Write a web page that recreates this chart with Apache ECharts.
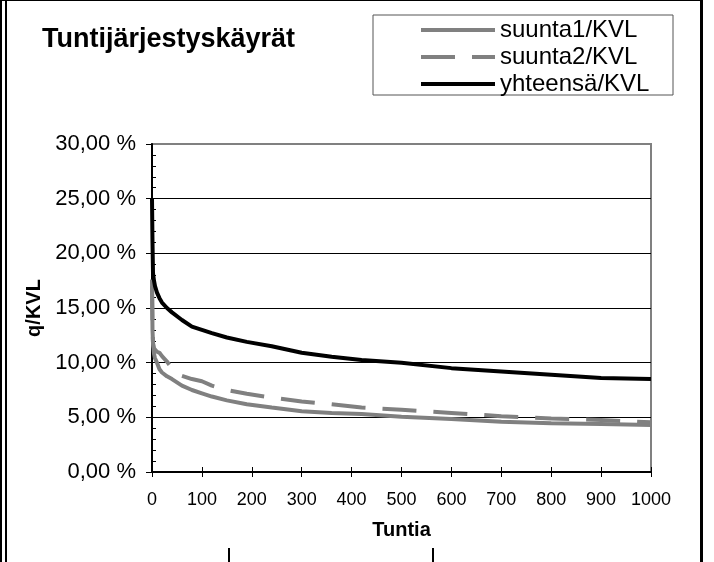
<!DOCTYPE html>
<html>
<head>
<meta charset="utf-8">
<script src="https://cdn.jsdelivr.net/npm/echarts@6/dist/echarts.min.js"></script>
<style>
  html, body { margin: 0; padding: 0; background: #fff; }
  #chart { width: 714px; height: 562px; }
</style>
</head>
<body>
<div id="chart"></div>
<script>
// tunnit (x) ja osuudet KVL:stä prosentteina
const hours = [0, 1, 2, 4, 6, 10, 15, 20, 30, 40, 60, 80, 100, 120, 150, 190, 240, 300, 360, 420, 500, 600, 700, 800, 900, 1000];
const suunta1 = [17.6, 13.0, 11.8, 10.8, 10.4, 10.0, 9.4, 9.1, 8.75, 8.5, 7.9, 7.5, 7.2, 6.9, 6.55, 6.2, 5.9, 5.55, 5.4, 5.3, 5.05, 4.85, 4.6, 4.45, 4.4, 4.3];
const suunta2 = [17.0, 13.5, 11.8, 11.3, 11.2, 11.0, 10.9, 10.6, 10.1, 9.5, 8.8, 8.5, 8.3, 7.9, 7.5, 7.15, 6.8, 6.45, 6.2, 5.9, 5.7, 5.4, 5.1, 4.9, 4.75, 4.55];
const yhteensa = [25.0, 21.0, 18.2, 17.5, 17.0, 16.4, 15.9, 15.5, 15.0, 14.6, 13.9, 13.3, 13.0, 12.7, 12.3, 11.9, 11.5, 10.9, 10.55, 10.25, 10.0, 9.5, 9.2, 8.9, 8.6, 8.5];
const seriesNames = ['suunta1/KVL', 'suunta2/KVL', 'yhteensä/KVL'];
const xTicks = { min: 0, max: 1000, interval: 100 };
const yTicks = { min: 0, max: 30, interval: 5 };

const FONT = 'Liberation Sans, Arial, sans-serif';

function pairs(vals) {
  return hours.map((h, i) => [h, vals[i]]);
}
function pct(v) {
  return v.toFixed(2).replace('.', ',') + ' %';
}

const chart = echarts.init(document.getElementById('chart'));

const option = {
  animation: false,
  backgroundColor: '#fff',
  textStyle: { fontFamily: FONT, color: '#000' },
  title: {
    text: 'Tuntijärjestyskäyrät',
    left: 37,
    top: 21,
    textStyle: { fontFamily: FONT, fontSize: 27, fontWeight: 'bold', color: '#000' }
  },
  legend: {
    orient: 'vertical',
    left: 414,
    top: 13,
    itemWidth: 74,
    itemHeight: 14,
    itemGap: 3,
    itemStyle: { opacity: 0, borderWidth: 0 },
    lineStyle: { width: 4 },
    textStyle: { fontFamily: FONT, fontSize: 24, color: '#000' },
    data: seriesNames
  },
  grid: {
    left: 152,
    right: 63,
    top: 144,
    bottom: 90,
    show: true,
    borderColor: '#808080',
    borderWidth: 2
  },
  xAxis: [
    {
      type: 'value',
      min: xTicks.min,
      max: xTicks.max,
      interval: xTicks.interval,
      name: 'Tuntia',
      nameLocation: 'middle',
      nameGap: 48,
      nameTextStyle: { fontFamily: FONT, fontSize: 20, fontWeight: 'bold', color: '#000' },
      axisLine: { lineStyle: { color: '#000', width: 2 } },
      axisTick: { length: 5, lineStyle: { color: '#000' } },
      axisLabel: { fontFamily: FONT, fontSize: 18, color: '#000', margin: 19, formatter: v => String(v) },
      splitLine: { show: false }
    },
    {
      type: 'value',
      position: 'bottom',
      min: xTicks.min,
      max: xTicks.max,
      interval: xTicks.interval,
      axisLine: { show: false },
      axisTick: { inside: true, length: 5, lineStyle: { color: '#000' } },
      axisLabel: { show: false },
      splitLine: { show: false }
    }
  ],
  yAxis: [
    {
      type: 'value',
      min: yTicks.min,
      max: yTicks.max,
      interval: yTicks.interval,
      name: 'q/KVL',
      nameLocation: 'middle',
      nameGap: 102,
      nameRotate: 90,
      nameTextStyle: { fontFamily: FONT, fontSize: 20, fontWeight: 'bold', color: '#000' },
      axisLine: { show: true, lineStyle: { color: '#000', width: 2 } },
      axisTick: { show: true, length: 6, lineStyle: { color: '#000' } },
      axisLabel: { fontFamily: FONT, fontSize: 22, color: '#000', margin: 16, formatter: pct },
      splitLine: {
        show: true,
        lineStyle: { color: ['#000', '#000', '#000', '#000', '#000', '#000', '#808080'], width: 1 }
      }
    },
    {
      type: 'value',
      position: 'left',
      min: yTicks.min,
      max: yTicks.max,
      interval: yTicks.interval,
      axisLine: { show: false },
      axisTick: { show: false, inside: true },
      minorTick: { show: true, splitNumber: 5, length: 4, lineStyle: { color: '#000' } },
      axisLabel: { show: false },
      splitLine: { show: false }
    }
  ],
  series: [
    {
      name: seriesNames[0],
      type: 'line',
      data: pairs(suunta1),
      showSymbol: false,
      symbol: 'none',
      lineStyle: { color: '#808080', width: 4 },
      itemStyle: { color: '#808080' },
      z: 3
    },
    {
      name: seriesNames[1],
      type: 'line',
      data: pairs(suunta2),
      showSymbol: false,
      symbol: 'none',
      lineStyle: { color: '#808080', width: 4, type: [34, 17] },
      itemStyle: { color: '#808080' },
      z: 3
    },
    {
      name: seriesNames[2],
      type: 'line',
      data: pairs(yhteensa),
      showSymbol: false,
      symbol: 'none',
      lineStyle: { color: '#000', width: 4 },
      itemStyle: { color: '#000' },
      z: 4
    }
  ],
  graphic: [
    // kehys
    { type: 'rect', shape: { x: 0, y: 0, width: 2, height: 562 }, style: { fill: '#000' } },
    { type: 'rect', shape: { x: 5, y: 0, width: 2, height: 562 }, style: { fill: '#000' } },
    { type: 'rect', shape: { x: 0, y: 0, width: 703, height: 1 }, style: { fill: '#000' } },
    { type: 'rect', shape: { x: 700, y: 0, width: 3, height: 562 }, style: { fill: '#000' } },
    // selitteen laatikko
    { type: 'rect', shape: { x: 373, y: 15, width: 300, height: 80 }, style: { fill: 'none', stroke: '#555', lineWidth: 1 } },
    // alareunan katkenneet viivat
    { type: 'rect', shape: { x: 228, y: 548, width: 2, height: 14 }, style: { fill: '#000' } },
    { type: 'rect', shape: { x: 432, y: 548, width: 2, height: 14 }, style: { fill: '#000' } }
  ]
};

chart.setOption(option);
</script>
</body>
</html>
